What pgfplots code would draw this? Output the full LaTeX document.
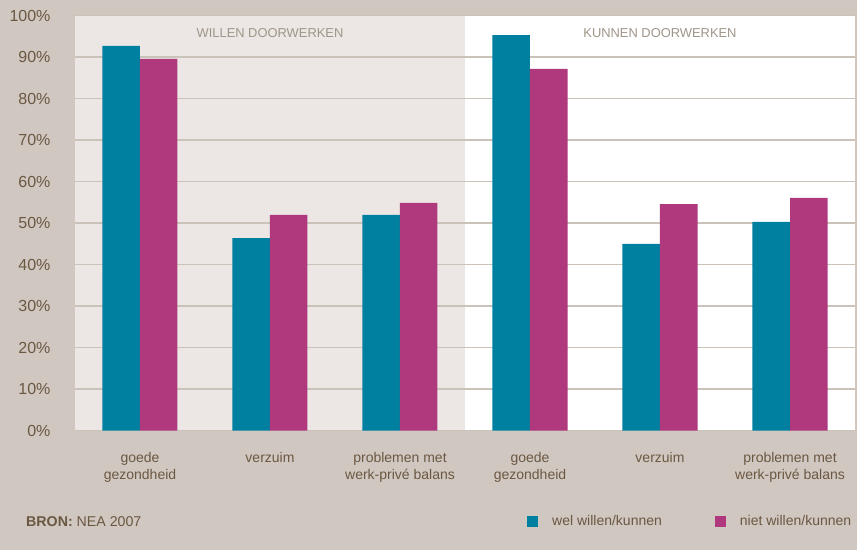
\documentclass[border=0pt]{standalone}
\usepackage{fontspec}
\setmainfont{Liberation Sans}
\usepackage{pgfplots}
\pgfplotsset{compat=1.18}
\definecolor{bg}{HTML}{D0C7C0}
\definecolor{leftbg}{HTML}{ECE7E4}
\definecolor{gridc}{HTML}{CBC2BA}
\definecolor{txt}{HTML}{6B5842}
\definecolor{ttl}{HTML}{A09589}
\definecolor{cteal}{HTML}{0080A0}
\definecolor{cmag}{HTML}{B0397E}
\begin{document}
\begin{tikzpicture}[x=1pt,y=1pt]
\fill[bg] (-75,-119.3) rectangle (782,430.7);
\path[use as bounding box] (-75,-119.3) rectangle (782,430.7);
\fill[white] (390,0) rectangle (780,415);
\fill[leftbg] (0,0) rectangle (390,415);
\begin{axis}[
  at={(0,0)}, anchor=south west,
  scale only axis, width=780pt, height=415pt,
  ybar=0pt, bar width=37.5pt,
  ymin=0, ymax=100, xmin=-0.5, xmax=5.5,
  enlargelimits=false, clip=false,
  xtick={0,...,5},
  xticklabels={{goede\\gezondheid},{verzuim},{problemen met\\werk-privé balans},{goede\\gezondheid},{verzuim},{problemen met\\werk-privé balans}},
  xticklabel style={align=center, font=\fontsize{14}{17}\selectfont, text=txt, yshift=-18pt},
  ytick={0,10,...,100},
  yticklabel={\pgfmathprintnumber{\tick}\%},
  yticklabel style={font=\fontsize{16}{18}\selectfont, text=txt, xshift=-21pt},
  /pgf/number format/assume math mode=true,
  ymajorgrids, grid style={gridc, line width=1.5pt},
  axis line style={draw=none}, major tick length=0pt,
  legend style={at={(axis description cs:0.5795,-0.2188)}, anchor=west, draw=none, fill=none,
    legend columns=2, inner sep=0pt, font=\fontsize{14}{17}\selectfont, text=txt,
    /tikz/every even column/.append style={column sep=51pt}},
  legend image code/.code={\fill (0pt,-5.5pt) rectangle (11pt,5.5pt); \path[draw=none,fill=none] (0pt,0pt) rectangle (23pt,0.1pt);},
]
\addplot[fill=cteal, draw=none] coordinates {(0,92.7) (1,46.4) (2,52.0) (3,95.3) (4,45.0) (5,50.3)};
\addplot[fill=cmag, draw=none] coordinates {(0,89.6) (1,52.0) (2,54.9) (3,87.2) (4,54.6) (5,56.1)};
\legend{wel willen/kunnen, niet willen/kunnen}
\node[font=\fontsize{12.9}{14}\selectfont, text=ttl] at (axis cs:1,95.8) {WILLEN DOORWERKEN};
\node[font=\fontsize{12.9}{14}\selectfont, text=ttl] at (axis cs:4,95.8) {KUNNEN DOORWERKEN};
\end{axis}
\node[anchor=west, font=\fontsize{14.2}{16}\selectfont, text=txt, inner sep=0pt] at (-49,-91.3) {\textbf{BRON:} NEA 2007};
\end{tikzpicture}
\end{document}
